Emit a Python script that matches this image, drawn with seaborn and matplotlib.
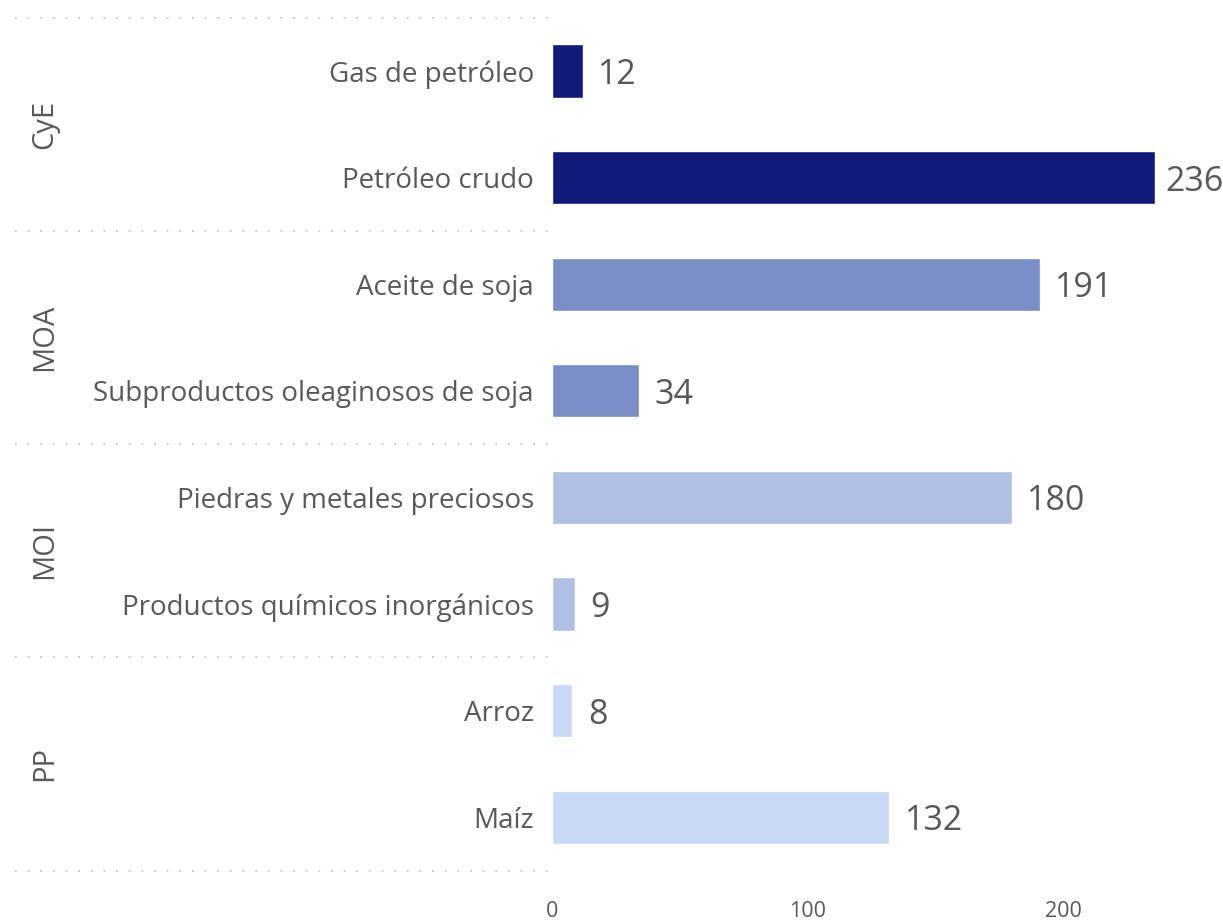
import pandas as pd
import matplotlib.pyplot as plt
import seaborn as sns

# Chart data
productos = ['Gas de petróleo', 'Petróleo crudo', 'Aceite de soja',
             'Subproductos oleaginosos de soja', 'Piedras y metales preciosos',
             'Productos químicos inorgánicos', 'Arroz', 'Maíz']
grupos = ['CyE', 'CyE', 'MOA', 'MOA', 'MOI', 'MOI', 'PP', 'PP']
valores = [12, 236, 191, 34, 180, 9, 8, 132]
colores = {'CyE': '#111A79', 'MOA': '#7A8EC7', 'MOI': '#AFC0E3', 'PP': '#C9D8F5'}

df = pd.DataFrame({'producto': productos, 'grupo': grupos, 'valor': valores})

sns.set_style('white')
plt.rcParams['font.family'] = ['Open Sans', 'DejaVu Sans']
gris = '#595959'

fig = plt.figure(figsize=(12.23, 9.22), dpi=100)
ax = fig.add_axes([552 / 1223, 1 - 870.5 / 922, 671 / 1223, (870.5 - 17.7) / 922])

sns.barplot(data=df, y='producto', x='valor', hue='grupo', palette=colores,
            dodge=False, width=0.5, saturation=1, legend=False, ax=ax)

ax.set_xlim(0, 671 / 2.555)
ax.set_ylim(7.5, -0.5)
ax.set_xlabel('')
ax.set_ylabel('')
ax.set_xticks([0, 100, 200])
ax.tick_params(axis='x', labelsize=15.5, colors=gris, pad=22, length=0)
ax.tick_params(axis='y', labelsize=20, colors=gris, pad=13, length=0)
sns.despine(ax=ax, left=True, bottom=True)

# value labels (kept inside the figure for the longest bar)
for i, v in enumerate(valores):
    ax.text(min(v + 6, 240), i, str(v), va='center_baseline', ha='left',
            fontsize=24.5, color=gris)

# group separators and labels
trans = ax.get_yaxis_transform()
for k in range(0, len(productos) + 1, 2):
    ax.plot([-0.80, 0], [k - 0.5, k - 0.5], transform=trans, color='#c8c8c8',
            linestyle=(0, (1, 6)), linewidth=1.3, clip_on=False)
for k in range(0, len(productos), 2):
    ax.text(-0.756, k + 0.5, grupos[k], transform=trans, rotation=90,
            va='center', ha='center', fontsize=21, color=gris)

fig.savefig('out.png', dpi=100)
